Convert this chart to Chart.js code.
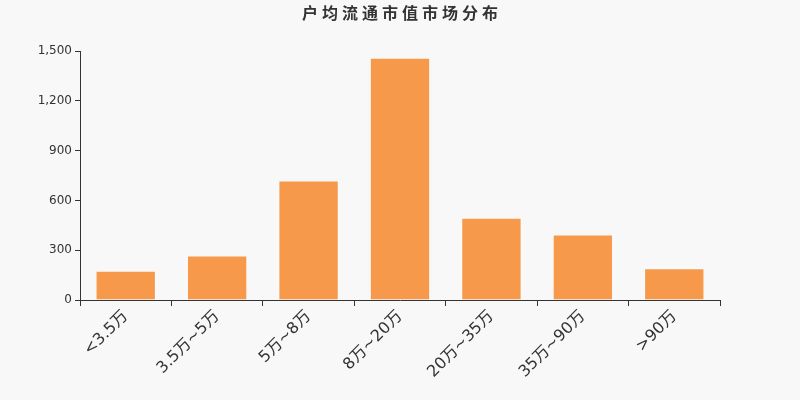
<!DOCTYPE html>
<html>
<head>
<meta charset="utf-8">
<script src="https://cdn.jsdelivr.net/npm/chart.js@4/dist/chart.umd.min.js"></script>
<style>
  html,body{margin:0;padding:0;background:#f8f8f8;}
  #wrap{width:800px;height:400px;}
</style>
</head>
<body>
<div id="wrap"><canvas id="c" width="800" height="400"></canvas></div>
<script>
    // chart data
    const title = '户均流通市值市场分布';
    const categories = ['<3.5万','3.5万~5万','5万~8万','8万~20万','20万~35万','35万~90万','>90万'];
    const values = [176, 268, 720, 1460, 496, 394, 192];
    const yTicks = [0, 300, 600, 900, 1200, 1500];

    const FONT = '"DejaVu Sans", "Noto Sans CJK SC", sans-serif';

    // title drawn with letter spacing
    const titlePlugin = {
      id:'spacedTitle',
      afterDraw(chart){
        const ctx = chart.ctx;
        ctx.save();
        ctx.font = 'bold 16px "Noto Sans CJK SC", sans-serif';
        ctx.fillStyle = '#333';
        ctx.textBaseline = 'middle';
        ctx.letterSpacing = '4px';
        const w = ctx.measureText(title).width - 4;
        ctx.fillText(title, 400 - w/2, 13);
        ctx.restore();
      }
    };

    const bgPlugin = {
      id:'bg',
      beforeDraw(chart){
        const ctx = chart.ctx;
        ctx.save();
        ctx.fillStyle = '#f8f8f8';
        ctx.fillRect(0,0,chart.width,chart.height);
        ctx.restore();
      }
    };

    new Chart(document.getElementById('c').getContext('2d'), {
      type:'bar',
      data:{
        labels: categories,
        datasets:[{
          data: values,
          backgroundColor:'#f7994a',
          borderColor:'rgba(255,255,255,0.45)',
          borderWidth:1,
          barPercentage:0.66,
          categoryPercentage:1
        }]
      },
      options:{
        responsive:false,
        animation:false,
        layout:{padding:{top:51,right:80,left:0,bottom:0}},
        plugins:{legend:{display:false}, tooltip:{enabled:false}},
        scales:{
          x:{
            afterFit(s){ s.height = 100; },
            border:{color:'#333', width:1},
            grid:{display:true, drawOnChartArea:false, color:'#333', tickLength:6, offset:true},
            ticks:{
              color:'#333', minRotation:45, maxRotation:45, padding:1,
              font:{family:FONT, size:16}
            }
          },
          y:{
            min:0, max:1500,
            afterFit(s){ s.width = 80; },
            afterBuildTicks(s){ s.ticks = yTicks.map(v=>({value:v})); },
            border:{color:'#333', width:1},
            grid:{display:true, drawOnChartArea:false, color:'#333', tickLength:5},
            ticks:{
              color:'#333', padding:3,
              font:{family:FONT, size:12},
              callback:(v)=>v.toLocaleString('en-US')
            }
          }
        }
      },
      plugins:[bgPlugin, titlePlugin]
    });
</script>
</body>
</html>
